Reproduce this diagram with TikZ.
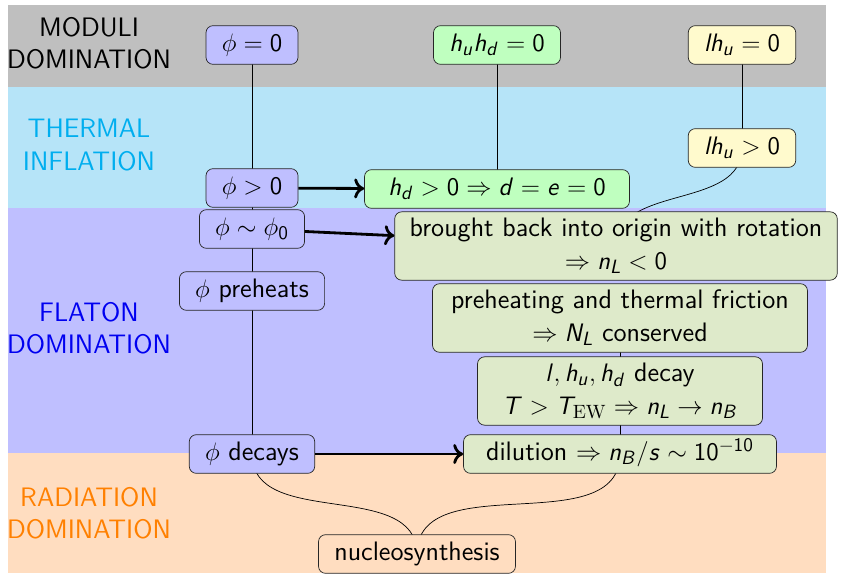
\documentclass[tikz,border=0pt]{standalone}
\usepackage{tikz}
\usetikzlibrary{arrows.meta, positioning}

% sans serif letters and digits in math, Greek stays as it is
\DeclareSymbolFont{sfletters}{OT1}{cmss}{m}{sl}
\DeclareSymbolFont{sfdigits}{OT1}{cmss}{m}{n}
\DeclareMathSymbol{d}{\mathalpha}{sfletters}{`d}
\DeclareMathSymbol{e}{\mathalpha}{sfletters}{`e}
\DeclareMathSymbol{h}{\mathalpha}{sfletters}{`h}
\DeclareMathSymbol{l}{\mathalpha}{sfletters}{`l}
\DeclareMathSymbol{n}{\mathalpha}{sfletters}{`n}
\DeclareMathSymbol{s}{\mathalpha}{sfletters}{`s}
\DeclareMathSymbol{u}{\mathalpha}{sfletters}{`u}
\DeclareMathSymbol{B}{\mathalpha}{sfletters}{`B}
\DeclareMathSymbol{L}{\mathalpha}{sfletters}{`L}
\DeclareMathSymbol{N}{\mathalpha}{sfletters}{`N}
\DeclareMathSymbol{T}{\mathalpha}{sfletters}{`T}
\DeclareMathSymbol{0}{\mathalpha}{sfdigits}{`0}
\DeclareMathSymbol{1}{\mathalpha}{sfdigits}{`1}

\definecolor{modgray}{RGB}{191,191,191}
\definecolor{thermcyan}{RGB}{182,228,248}
\definecolor{thermtext}{RGB}{0,174,239}
\definecolor{flatblue}{RGB}{191,191,255}
\definecolor{flattext}{RGB}{0,0,240}
\definecolor{radorange}{RGB}{255,221,192}
\definecolor{radtext}{RGB}{255,128,0}
\definecolor{boxgreen}{RGB}{191,255,191}
\definecolor{boxyellow}{RGB}{255,250,205}
\definecolor{boxolive}{RGB}{222,234,202}

\pgfdeclarelayer{bands}
\pgfdeclarelayer{links}
\pgfsetlayers{bands,links,main}

\begin{document}
\begin{tikzpicture}[
  x=0.02cm, y=-0.02cm,
  font=\sffamily\fontsize{15.2}{18.5}\selectfont,
  arr/.style={-{To[length=2mm, width=4mm]}, line width=1.6pt},
  box/.style={draw=black!85, rounded corners=4pt, inner xsep=9pt,
    inner ysep=3.6pt, text height=11pt, text depth=3.8pt},
  tbox/.style={draw=black!85, rounded corners=4pt, inner xsep=8.5pt,
    inner ysep=3.6pt, align=center},
  era/.style={align=center}
]
  \useasboundingbox (0,0) rectangle (845,574);

  % eras
  \begin{pgfonlayer}{bands}
    \foreach \top/\bot/\col in {5/87/modgray, 87/208/thermcyan,
      208/453/flatblue, 453/573/radorange}
      \fill[\col] (8,\top) rectangle (826,\bot);
  \end{pgfonlayer}
  \node[era] (modera) at (89,43) {MODULI\\DOMINATION};
  \node[era, text=thermtext] (thermera) at (89,145) {THERMAL\\INFLATION};
  \node[era, text=flattext] (flatera) at (89,328) {FLATON\\DOMINATION};
  \node[era, text=radtext] (radera) at (89,513) {RADIATION\\DOMINATION};

  % fields
  \node[box, fill=flatblue] (phi0) at (252,45) {$\phi = 0$};
  \node[box, fill=boxgreen] (huhd0) at (497,45) {$h_u h_d = 0$};
  \node[box, fill=boxyellow] (lhu0) at (742,45) {$l h_u = 0$};
  \node[box, fill=boxyellow] (lhu1) at (742,148) {$l h_u > 0$};
  \node[box, fill=flatblue] (phi1) at (252,188) {$\phi > 0$};
  \node[box, fill=boxgreen, minimum width=5.3cm] (hd) at (497,189)
    {$h_d > 0 \Rightarrow d = e = 0$};
  \node[box, fill=flatblue] (phi2) at (252,229) {$\phi \sim \phi_0$};
  \node[tbox, fill=boxolive] (brought) at (616,246)
    {brought back into origin with rotation\\$\Rightarrow n_L < 0$};
  \node[box, fill=flatblue] (phi3) at (252,291) {$\phi$ preheats};
  \node[tbox, fill=boxolive, minimum width=7.5cm] (friction) at (620,318)
    {preheating and thermal friction\\$\Rightarrow N_L$ conserved};
  \node[tbox, fill=boxolive, minimum width=5.7cm] (decay) at (620,391)
    {$l, h_u, h_d$ decay\\$T > T_{\mathrm{EW}} \Rightarrow n_L \to n_B$};
  \node[box, fill=flatblue] (phi4) at (252,454) {$\phi$ decays};
  \node[box, fill=boxolive, minimum width=6.26cm] (dilution) at (620,454)
    {dilution $\Rightarrow n_B/s \sim 10^{-10}$};
  \node[box, fill=radorange] (nucleo) at (417,554) {nucleosynthesis};

  % links behind the boxes
  \begin{pgfonlayer}{links}
    \draw (phi0.center) -- (phi4.center);
    \draw (huhd0.center) -- (hd.center);
    \draw (lhu0.center) -- (lhu1.center);
    \draw (lhu1.center) to[out=-90, in=90] (brought.center);
    \draw (friction.center) -- (decay.center);
    \draw (decay.center) -- (dilution.center);
    \draw (phi4.center) to[out=-90, in=90] (nucleo.center);
    \draw (dilution.center) to[out=-90, in=90] (nucleo.center);
  \end{pgfonlayer}

  \draw[arr] (phi1) -- (hd);
  \draw[arr] (phi2) -- (brought);
  \draw[arr] (phi4) -- (dilution);
\end{tikzpicture}
\end{document}
